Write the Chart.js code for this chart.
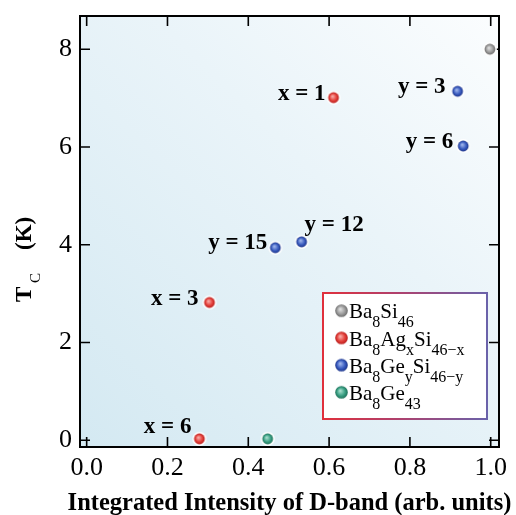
<!DOCTYPE html>
<html>
<head>
<meta charset="utf-8">
<script src="https://cdn.jsdelivr.net/npm/chart.js@4.4.1/dist/chart.umd.min.js"></script>
<style>
  html, body { margin: 0; padding: 0; background: #fff; }
  #wrap { width: 516px; height: 515px; }
</style>
</head>
<body>
<div id="wrap"><canvas id="tcChart"></canvas></div>
<script>
// values
const baSiX = [0.998];
const baSiY = [8.0];

const agX = [0.611, 0.304, 0.279];
const agY = [7.01, 2.82, 0.03];
const agNotes = ['x = 1', 'x = 3', 'x = 6'];

const geSiX = [0.918, 0.932, 0.532, 0.467];
const geSiY = [7.14, 6.02, 4.06, 3.94];
const geSiNotes = ['y = 3', 'y = 6', 'y = 12', 'y = 15'];

const geX = [0.448];
const geY = [0.03];

const xTickValues = [0, 0.2, 0.4, 0.6, 0.8, 1.0];
const xTickLabels = ['0.0', '0.2', '0.4', '0.6', '0.8', '1.0'];
const yTickValues = [0, 2, 4, 6, 8];
const yTickLabels = ['0', '2', '4', '6', '8'];

// legend names as [main, subscript] pieces
const legendNames = [
    [['Ba', '8'], ['Si', '46']],
    [['Ba', '8'], ['Ag', 'x'], ['Si', '46\u2212x']],
    [['Ba', '8'], ['Ge', 'y'], ['Si', '46\u2212y']],
    [['Ba', '8'], ['Ge', '43']]
];

const xTitle = 'Integrated Intensity of D-band (arb. units)';

const SERIF = '"Liberation Serif", "Times New Roman", serif';

// light / mid / dark shades for the shaded balls
const shades = [
    ['#dcdcdc', '#9c9c9c', '#6c6c6c'],
    ['#f8a8a4', '#e4403a', '#b81e1e'],
    ['#9cb2ea', '#3a5cc0', '#1c348a'],
    ['#a4dcca', '#3aa084', '#1c7058']
];

function ball(c, r, halo) {
    const size = Math.ceil((r + halo) * 2) + 2;
    const cv = document.createElement('canvas');
    cv.width = cv.height = size;
    const g = cv.getContext('2d');
    const m = size / 2;
    if (halo) {
        g.fillStyle = '#fff';
        g.beginPath();
        g.arc(m, m, r + halo, 0, 2 * Math.PI);
        g.fill();
    }
    const grad = g.createRadialGradient(m - r * 0.2, m - r * 0.25, r * 0.1, m, m, r);
    grad.addColorStop(0, c[0]);
    grad.addColorStop(0.6, c[1]);
    grad.addColorStop(1, c[2]);
    g.fillStyle = grad;
    g.beginPath();
    g.arc(m, m, r, 0, 2 * Math.PI);
    g.fill();
    return cv;
}

function pts(xs, ys) {
    return xs.map((x, i) => ({ x: x, y: ys[i] }));
}

// where each note sits next to its point: dx, dy, align
const noteSpots = {
    1: [[-8, -4, 'right'], [-11, -3, 'right'], [-8, -12, 'right']],
    2: [[-12, -4, 'right'], [-10, -4, 'right'], [3, -17, 'left'], [-8, -5, 'right']]
};
const noteTexts = { 1: agNotes, 2: geSiNotes };

function drawName(ctx, pieces, x, base) {
    pieces.forEach(p => {
        ctx.font = '21px ' + SERIF;
        ctx.fillText(p[0], x, base);
        x += ctx.measureText(p[0]).width;
        ctx.font = '16px ' + SERIF;
        ctx.fillText(p[1], x, base + 9);
        x += ctx.measureText(p[1]).width;
    });
}

const figurePlugin = {
    id: 'figure',
    beforeDraw(chart) {
        const { ctx, chartArea: a } = chart;
        const grad = ctx.createLinearGradient(a.left, a.bottom, a.right, a.top);
        grad.addColorStop(0, '#d4e9f2');
        grad.addColorStop(0.6, '#eaf4f9');
        grad.addColorStop(1, '#fbfdfe');
        ctx.save();
        ctx.fillStyle = grad;
        ctx.fillRect(a.left, a.top, a.right - a.left, a.bottom - a.top);
        ctx.restore();
    },
    beforeDatasetsDraw(chart) {
        const { ctx, chartArea: a, scales } = chart;
        ctx.save();
        ctx.strokeStyle = '#000';
        ctx.lineWidth = 1.6;
        ctx.beginPath();
        xTickValues.forEach(v => {
            const px = scales.x.getPixelForValue(v);
            ctx.moveTo(px, a.bottom); ctx.lineTo(px, a.bottom - 10);
            ctx.moveTo(px, a.top); ctx.lineTo(px, a.top + 10);
        });
        yTickValues.forEach(v => {
            const py = scales.y.getPixelForValue(v);
            ctx.moveTo(a.left, py); ctx.lineTo(a.left + 10, py);
            ctx.moveTo(a.right, py); ctx.lineTo(a.right - 10, py);
        });
        ctx.stroke();
        ctx.lineWidth = 2;
        ctx.strokeRect(a.left, a.top, a.right - a.left, a.bottom - a.top);
        ctx.restore();
    },
    afterDraw(chart) {
        const { ctx, chartArea: a } = chart;
        ctx.save();
        ctx.fillStyle = '#000';

        // point notes
        ctx.font = 'bold 23px ' + SERIF;
        ctx.textBaseline = 'middle';
        Object.keys(noteSpots).forEach(di => {
            const meta = chart.getDatasetMeta(+di);
            noteSpots[di].forEach((s, i) => {
                const el = meta.data[i];
                ctx.textAlign = s[2];
                ctx.fillText(noteTexts[di][i], el.x + s[0], el.y + s[1]);
            });
        });

        // legend box
        const bx = a.right - 176, by = a.bottom - 154, bw = 164, bh = 126;
        ctx.fillStyle = '#fff';
        ctx.fillRect(bx, by, bw, bh);
        const bgrad = ctx.createLinearGradient(bx, by, bx + bw, by);
        bgrad.addColorStop(0, '#e0303c');
        bgrad.addColorStop(0.45, '#b0406c');
        bgrad.addColorStop(1, '#6a62aa');
        ctx.strokeStyle = bgrad;
        ctx.lineWidth = 2;
        ctx.strokeRect(bx, by, bw, bh);
        ctx.textAlign = 'left';
        ctx.textBaseline = 'alphabetic';
        ctx.fillStyle = '#000';
        legendNames.forEach((name, i) => {
            const cy = by + 17.7 + i * 27.2;
            const mk = ball(shades[i], 6.3, 0);
            ctx.drawImage(mk, bx + 18.5 - mk.width / 2, cy - mk.height / 2);
            drawName(ctx, name, bx + 26, cy + 7.6);
        });

        // y title: T_C (K)
        ctx.translate(31, 302);
        ctx.rotate(-Math.PI / 2);
        ctx.font = 'bold 23px ' + SERIF;
        ctx.fillText('T', 0, 0);
        ctx.font = '15px ' + SERIF;
        ctx.fillText('C', 19, 9);
        ctx.font = 'bold 23px ' + SERIF;
        ctx.fillText('(K)', 52, 0);
        ctx.setTransform(1, 0, 0, 1, 0, 0);

        // x title
        ctx.font = 'bold 24.5px ' + SERIF;
        ctx.textAlign = 'center';
        ctx.fillText(xTitle, (a.left + a.right) / 2, 510);
        ctx.restore();
    }
};

const datasets = [
    { label: 'Ba8Si46', data: pts(baSiX, baSiY), pointStyle: ball(shades[0], 5.4, 1.6) },
    { label: 'Ba8AgxSi46-x', data: pts(agX, agY), pointStyle: ball(shades[1], 5.4, 1.6) },
    { label: 'Ba8GeySi46-y', data: pts(geSiX, geSiY), pointStyle: ball(shades[2], 5.4, 1.6) },
    { label: 'Ba8Ge43', data: pts(geX, geY), pointStyle: ball(shades[3], 5.4, 1.6) }
];

const tickFont = { family: SERIF, size: 26 };

new Chart(document.getElementById('tcChart'), {
    type: 'scatter',
    data: { datasets: datasets },
    options: {
        responsive: true,
        maintainAspectRatio: false,
        animation: false,
        events: [],
        layout: { padding: { left: 0, top: 16, right: 17, bottom: 0 } },
        plugins: {
            legend: { display: false },
            tooltip: { enabled: false }
        },
        scales: {
            x: {
                type: 'linear',
                position: 'bottom',
                min: -0.0165,
                max: 1.0205,
                grid: { display: false, drawTicks: false },
                border: { display: false },
                afterBuildTicks: s => { s.ticks = xTickValues.map(v => ({ value: v })); },
                afterFit: s => { s.height = 68; s.paddingLeft = 0; s.paddingRight = 0; },
                ticks: {
                    padding: 6,
                    color: '#000',
                    font: tickFont,
                    autoSkip: false,
                    maxRotation: 0,
                    callback: (v, i) => xTickLabels[i]
                }
            },
            y: {
                type: 'linear',
                min: -0.137,
                max: 8.68,
                grid: { display: false, drawTicks: false },
                border: { display: false },
                afterBuildTicks: s => { s.ticks = yTickValues.map(v => ({ value: v })); },
                afterFit: s => { s.width = 80; s.paddingTop = 0; s.paddingBottom = 0; },
                ticks: {
                    padding: 8,
                    color: '#000',
                    font: tickFont,
                    autoSkip: false,
                    callback: (v, i) => yTickLabels[i]
                }
            }
        }
    },
    plugins: [figurePlugin]
});
</script>
</body>
</html>
